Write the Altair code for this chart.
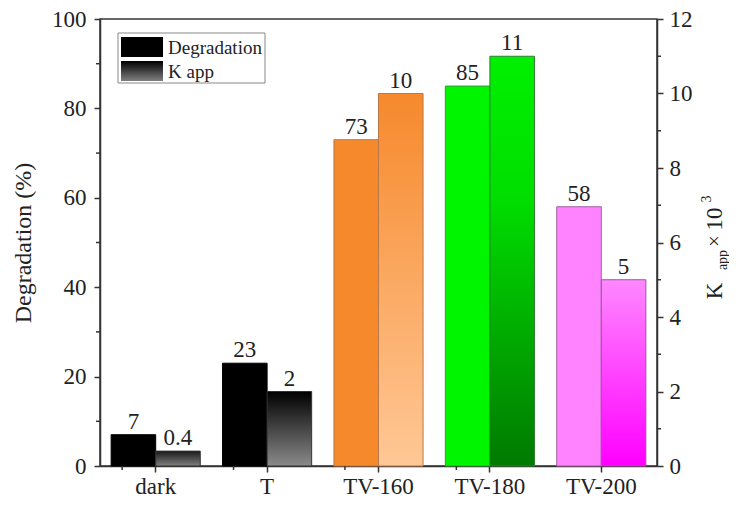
import altair as alt
import pandas as pd

# ---- data ----
categories = ["dark", "T", "TV-160", "TV-180", "TV-200"]
degradation = [7, 23, 73, 85, 58]
k_app = [0.4, 2, 10, 11, 5]
degradation_labels = ["7", "23", "73", "85", "58"]
k_app_labels = ["0.4", "2", "10", "11", "5"]
series = ["Degradation", "K app"]
left_ticks = [0, 20, 40, 60, 80, 100]
left_minor = [10, 30, 50, 70, 90]
right_ticks = [0, 2, 4, 6, 8, 10, 12]
right_minor = [1, 3, 5, 7, 9, 11]

# ---- styles ----
deg_fill = ["#000000", "#000000", "#F6892C", "#00F500", "#FF82FF"]
deg_stroke = ["#000000", "#000000", "#B8784A", "#3C963C", "#A064A0"]
k_grad = {
    "dark": [(0, "#1a1a1a"), (1, "#808080")],
    "T": [(0, "#000000"), (1, "#8a8a8a")],
    "TV-160": [(0, "#F6892C"), (1, "#FFC896")],
    "TV-180": [(0, "#00F000"), (0.35, "#00DE00"), (1, "#007A00")],
    "TV-200": [(0, "#FF88FF"), (1, "#FF00FF")],
}
k_stroke = {"dark": "#333333", "T": "#333333", "TV-160": "#B8784A",
            "TV-180": "#2E7D2E", "TV-200": "#A050A0"}

FONT = "Liberation Serif"
TXT = "#222222"
W, H = 557, 447

deg_df = pd.DataFrame({"cat": categories, "deg": degradation,
                       "label": degradation_labels, "series": series[0]})
k_df = pd.DataFrame({"cat": categories, "kapp": k_app,
                     "label": k_app_labels, "series": series[1]})

x_axis = alt.Axis(title=None, labelAngle=0, labelFontSize=23, tickSize=6,
                  labelPadding=3)
x_scale = alt.Scale(domain=categories, paddingInner=0.2, paddingOuter=0.1)
x_enc = alt.X("cat:N", sort=categories, scale=x_scale, axis=x_axis)
xo_enc = alt.XOffset("series:N", scale=alt.Scale(domain=series, paddingInner=0,
                                                 paddingOuter=0))

left_scale = alt.Scale(domain=[0, 100], nice=False)
left_axis = alt.Axis(values=left_ticks, title="Degradation (%)", titleFontSize=24,
                     titleFontWeight="normal", titlePadding=16, labelFontSize=23,
                     tickSize=6, labelPadding=8)
right_scale = alt.Scale(domain=[0, 12], nice=False)
right_axis = alt.Axis(values=right_ticks, title=None, orient="right",
                      labelFontSize=23, tickSize=6, labelPadding=6)


def grad(stops):
    return alt.Gradient(gradient="linear", x1=0, x2=0, y1=0, y2=1,
                        stops=[alt.GradientStop(offset=o, color=c) for o, c in stops])


one = pd.DataFrame({"t": [0]})

# ---- degradation group ----
deg_bars = alt.Chart(deg_df).mark_bar(strokeWidth=1).encode(
    x=x_enc, xOffset=xo_enc,
    y=alt.Y("deg:Q", scale=left_scale, axis=left_axis),
    fill=alt.Fill("cat:N", scale=alt.Scale(domain=categories, range=deg_fill), legend=None),
    stroke=alt.Stroke("cat:N", scale=alt.Scale(domain=categories, range=deg_stroke), legend=None),
)
deg_text = alt.Chart(deg_df).mark_text(baseline="alphabetic", dy=-6, fontSize=23,
                                       font=FONT, color=TXT).encode(
    x=x_enc, xOffset=xo_enc,
    y=alt.Y("deg:Q", scale=left_scale, axis=left_axis),
    text="label:N",
)
left_minor_ticks = alt.Chart(pd.DataFrame({"deg": left_minor})).mark_rule(
    color="#333333", strokeWidth=1.5).encode(
    y=alt.Y("deg:Q", scale=left_scale, axis=left_axis),
    x=alt.value(-4), x2=alt.value(0),
)
x_minor_ticks = alt.Chart(pd.DataFrame({"cat": categories[:-1]})).mark_rule(
    color="#333333", strokeWidth=1.5).encode(
    x=alt.X("cat:N", sort=categories, scale=x_scale, axis=x_axis, bandPosition=1),
    xOffset=alt.value(11),
    y=alt.value(H), y2=alt.value(H + 4),
)

legend_box = alt.Chart(one).mark_rect(fill="white", stroke="#888888", strokeWidth=1).encode(
    x=alt.value(18), x2=alt.value(165), y=alt.value(14), y2=alt.value(64))
legend_sw1 = alt.Chart(one).mark_rect(fill="#000000").encode(
    x=alt.value(21), x2=alt.value(63), y=alt.value(18), y2=alt.value(38))
legend_sw2 = alt.Chart(one).mark_rect(fill=grad([(0, "#000000"), (1, "#808080")])).encode(
    x=alt.value(21), x2=alt.value(63), y=alt.value(42), y2=alt.value(62))
legend_t1 = alt.Chart(one).mark_text(text=series[0], align="left", baseline="middle",
                                     font=FONT, fontSize=19, color=TXT).encode(
    x=alt.value(68), y=alt.value(29))
legend_t2 = alt.Chart(one).mark_text(text=series[1], align="left", baseline="middle",
                                     font=FONT, fontSize=19, color=TXT).encode(
    x=alt.value(68), y=alt.value(53))

deg_group = alt.layer(deg_bars, deg_text, left_minor_ticks, x_minor_ticks,
                      legend_box, legend_sw1, legend_sw2, legend_t1, legend_t2)

# ---- K app group ----
k_layers = []
for c in categories:
    k_layers.append(
        alt.Chart(k_df).transform_filter(alt.datum.cat == c).mark_bar(
            fill=grad(k_grad[c]), stroke=k_stroke[c], strokeWidth=1).encode(
            x=x_enc, xOffset=xo_enc,
            y=alt.Y("kapp:Q", scale=right_scale, axis=right_axis),
        )
    )
k_text = alt.Chart(k_df).mark_text(baseline="alphabetic", dy=-6, fontSize=23,
                                   font=FONT, color=TXT).encode(
    x=x_enc, xOffset=xo_enc,
    y=alt.Y("kapp:Q", scale=right_scale, axis=right_axis),
    text="label:N",
)
right_minor_ticks = alt.Chart(pd.DataFrame({"kapp": right_minor})).mark_rule(
    color="#333333", strokeWidth=1.5).encode(
    y=alt.Y("kapp:Q", scale=right_scale, axis=right_axis),
    x=alt.value(W), x2=alt.value(W + 4),
)
k_group = alt.layer(*k_layers, k_text, right_minor_ticks)

# ---- right axis title (K_app x 10^3) ----
def rtxt(t, x, y, size):
    return alt.Chart(one).mark_text(text=t, angle=270, align="center", baseline="middle",
                                    font=FONT, fontSize=size, color=TXT).encode(
        x=alt.value(x), y=alt.value(y))

title_layer = alt.layer(
    rtxt("K", 615, 272, 23),
    rtxt("app", 623, 241, 14),
    rtxt("\u00d7", 615, 222, 20),
    rtxt("10", 615, 200, 23),
    rtxt("3", 607, 180, 14),
)

chart = alt.layer(deg_group, k_group, title_layer).resolve_scale(
    y="independent"
).properties(
    width=W, height=H, autosize="none",
    padding={"left": 92, "top": 11, "right": 72, "bottom": 32},
).configure_view(
    stroke="#333333", strokeWidth=1.5
).configure_axis(
    labelFont=FONT, titleFont=FONT, labelColor=TXT, titleColor=TXT,
    domainColor="#333333", tickColor="#333333", domainWidth=1.5, tickWidth=1.5,
    grid=False,
)

chart.save("out.html", embed_options={"renderer": "svg", "actions": False})
